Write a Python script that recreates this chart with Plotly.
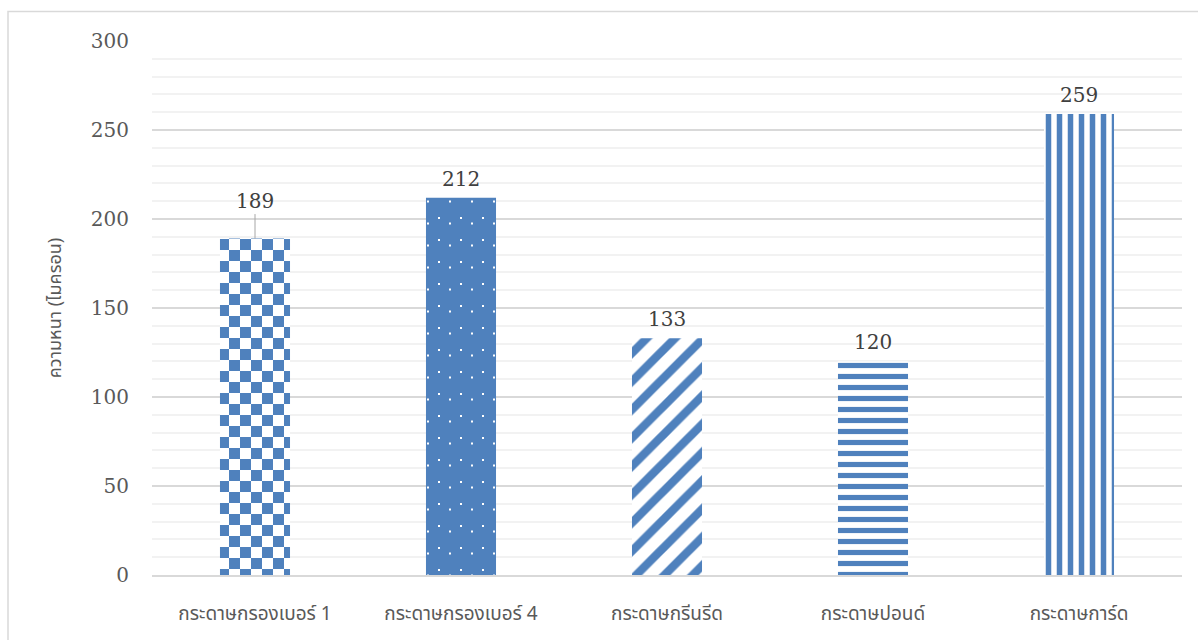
import plotly.graph_objects as go

# Paper types and measured thickness (microns)
papers = ["กระดาษกรองเบอร์ 1", "กระดาษกรองเบอร์ 4", "กระดาษกรีนรีด", "กระดาษปอนด์", "กระดาษการ์ด"]
thickness = [189, 212, 133, 120, 259]
y_ticks = [0, 50, 100, 150, 200, 250, 300]

BLUE = "#4F81BD"
WHITE = "#FFFFFF"
GREY_TXT = "#595959"

# One fill pattern per bar
patterns = [
    dict(path="M0,0H11V11H0Z M11,11H22V22H11Z", size=22, fgcolor=BLUE, bgcolor=WHITE, solidity=1),
    dict(path="M0,0H2V2H0Z M11,5.5H13V7.5H11Z", size=22, fgcolor=WHITE, bgcolor=BLUE, solidity=1),
    dict(shape="/", size=20, solidity=0.42, fgcolor=BLUE, bgcolor=WHITE),
    dict(shape="-", size=11, solidity=0.47, fgcolor=BLUE, bgcolor=WHITE),
    dict(shape="|", size=11, solidity=0.5, fgcolor=BLUE, bgcolor=WHITE),
]

fig = go.Figure()
for name, val, pat in zip(papers, thickness, patterns):
    fig.add_trace(go.Bar(
        x=[name], y=[val],
        marker=dict(color=BLUE, line=dict(width=0), pattern=dict(fgopacity=1, **pat)),
        showlegend=False, hoverinfo="x+y",
    ))

# Value labels above bars (the first one sits higher with a leader line)
label_font = dict(family="DejaVu Serif", size=20, color="#404040")
for i, (name, val) in enumerate(zip(papers, thickness)):
    if i == 0:
        fig.add_annotation(x=name, y=val, text=str(val), showarrow=True,
                           arrowhead=0, arrowwidth=1, arrowcolor="#A6A6A6",
                           ax=0, ay=-38, standoff=0, font=label_font)
    else:
        fig.add_annotation(x=name, y=val, text=str(val), showarrow=False,
                           yanchor="bottom", yshift=5, font=label_font)

# Outer chart frame
fig.add_shape(type="rect", xref="paper", yref="paper",
              x0=-0.1398, x1=1.05, y0=-0.3, y1=1.0553,
              line=dict(color="#D9D9D9", width=1.5), fillcolor="rgba(0,0,0,0)", layer="below")

fig.update_layout(
    width=1198, height=640,
    margin=dict(l=152, r=16, t=41, b=65),
    paper_bgcolor="white", plot_bgcolor="white",
    bargap=0.66,
    xaxis=dict(
        type="category", showgrid=False, showline=True, linecolor="#D9D9D9", linewidth=1.5,
        ticks="", ticklabelstandoff=20,
        tickfont=dict(family="Tahoma, Noto Sans Thai, sans-serif", size=19, color=GREY_TXT),
    ),
    yaxis=dict(
        range=[0, 300], tickvals=y_ticks, showgrid=True, gridcolor="#D9D9D9", gridwidth=1.5,
        zeroline=False, showline=False, ticks="", ticklabelstandoff=22,
        minor=dict(dtick=10, showgrid=True, gridcolor="#F2F2F2", gridwidth=1.5),
        tickfont=dict(family="DejaVu Serif", size=20, color=GREY_TXT),
        title=dict(text="ความหนา (ไมครอน)", standoff=24,
                   font=dict(family="Tahoma, Noto Sans Thai, sans-serif", size=18, color=GREY_TXT)),
    ),
)

fig.write_html("out.html")
